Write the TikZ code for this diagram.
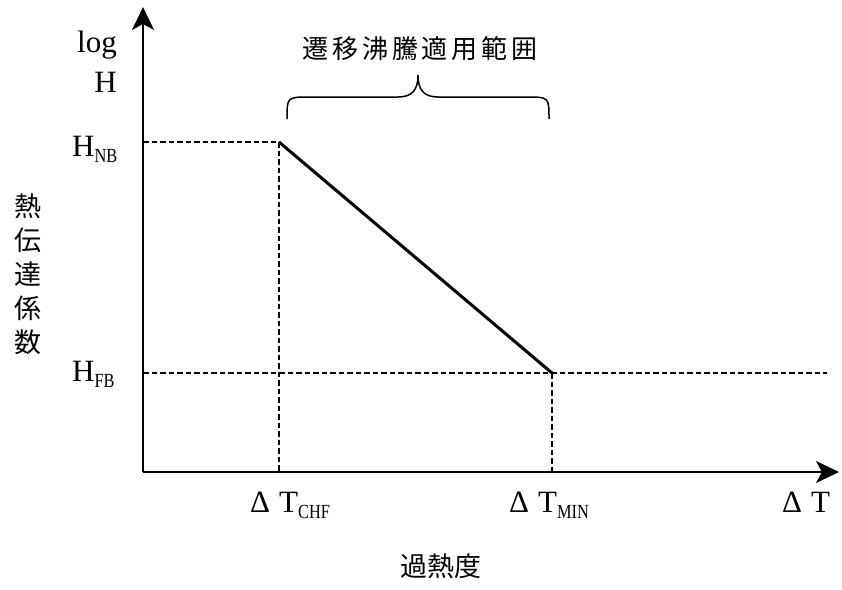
\documentclass[tikz,border=0pt]{standalone}
\usepackage{fontspec}
\setmainfont{Liberation Serif}
\newfontfamily\subfont[FakeStretch=0.82]{Liberation Serif}
\newfontfamily\cjk{Noto Sans CJK JP}
\newfontfamily\cjkwide[LetterSpace=15]{Noto Sans CJK JP}
\usetikzlibrary{arrows.meta}
\tikzset{
  axisline/.style={line width=1.8pt, -{Stealth[length=23pt,width=22pt,inset=6pt]}},
  guide/.style={line width=1.6pt, dash pattern=on 5.5pt off 3pt},
  curveline/.style={line width=3pt},
  braceline/.style={line width=1.5pt},
  lab/.style={inner sep=0pt, font=\fontsize{31}{36}\selectfont},
  cjklab/.style={inner sep=0pt, align=center, font=\cjk\fontsize{27}{34}\selectfont},
  titlelab/.style={inner sep=0pt, font=\cjkwide\fontsize{26}{30}\selectfont},
}
\newcommand\subtxt[1]{\raisebox{-6pt}{\subfont\fontsize{20}{20}\selectfont #1}}
\begin{document}
\begin{tikzpicture}[x=1pt,y=-1pt]
\useasboundingbox (0,0) rectangle (842,589);
% key points
\coordinate (O) at (143,472);
\coordinate (ytip) at (143,7);
\coordinate (xtip) at (839,472);
\coordinate (nb) at (279,142);
\coordinate (fb) at (552,373);
\coordinate (nbaxis) at (143,142);
\coordinate (fbaxis) at (143,373);
\coordinate (fbend) at (827,373);
\coordinate (chfx) at (279,472);
\coordinate (minx) at (552,472);
% guides
\draw[guide] (nbaxis) -- (nb);
\draw[guide] (nb) -- (chfx);
\draw[guide] (fbaxis) -- (fbend);
\draw[guide] (fb) -- (minx);
% axes
\draw[axisline] (O) -- (ytip);
\draw[axisline] (O) -- (xtip);
% curve
\draw[curveline] (nb) -- (fb);
% brace
\coordinate (bl) at (287,119);
\coordinate (br) at (549,119);
\coordinate (btip) at (418,75);
\draw[braceline] (bl) .. controls (287,97) .. (310,97) -- (398,97)
  .. controls (412,97) and (418,90) .. (btip)
  .. controls (418,90) and (424,97) .. (438,97) -- (526,97)
  .. controls (549,97) .. (br);
% labels
\node[titlelab] (title) at (420,49) {遷移沸騰適用範囲};
\node[lab, anchor=base east] (log) at (117,52) {log};
\node[lab, anchor=base east] (Hlab) at (117,92) {H};
\node[lab, anchor=base west] (hnb) at (72,156) {H\subtxt{NB}};
\node[lab, anchor=base west] (hfb) at (72,381) {H\subtxt{FB}};
\node[lab, anchor=base west] (tchf) at (250,512) {Δ\hspace{9pt}T\subtxt{CHF}};
\node[lab, anchor=base west] (tmin) at (509,512) {Δ\hspace{9pt}T\subtxt{MIN}};
\node[lab, anchor=base west] (dt) at (782,512) {Δ\hspace{9pt}T};
\node[cjklab] (ylab) at (28,274) {熱\\伝\\達\\係\\数};
\node[cjklab] (xlab) at (441,566) {過熱度};
\end{tikzpicture}
\end{document}
